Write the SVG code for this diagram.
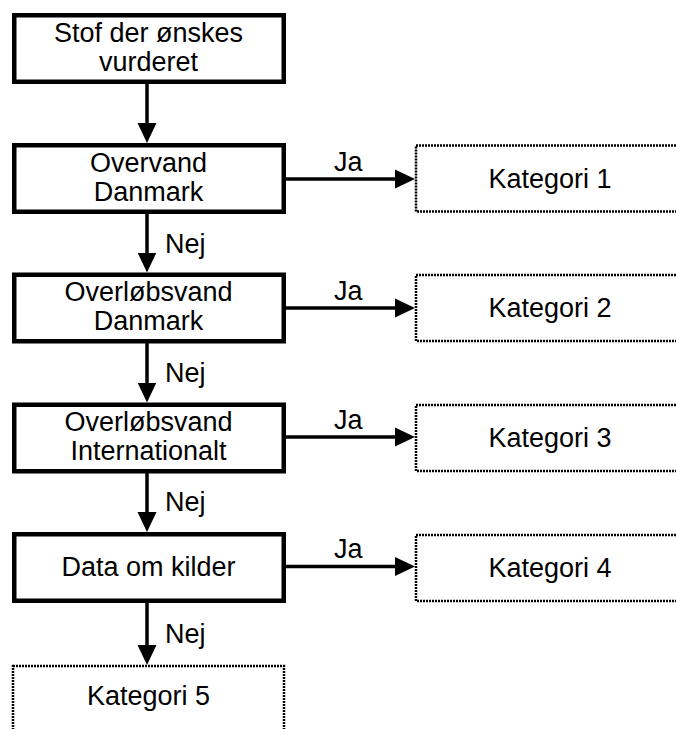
<svg xmlns="http://www.w3.org/2000/svg" width="676" height="729" viewBox="0 0 676 729">
<defs>
<style>
.box{fill:#fff;stroke:#000;stroke-width:4.5}
.cat{fill:#fff;stroke:#000;stroke-width:2.5;stroke-dasharray:2 1}
.t{font-family:"Liberation Sans",Arial,sans-serif;font-size:27px;fill:#000}
.m{text-anchor:middle}
.c{stroke:#000;stroke-width:3.5;fill:none}
</style>
<marker id="ah" markerUnits="userSpaceOnUse" markerWidth="21" markerHeight="20" refX="10" refY="10" orient="auto" viewBox="0 0 21 20">
<path d="M0,0.5 L20,10 L0,19.5 Z" fill="#000"/>
</marker>
</defs>
<rect width="676" height="729" fill="#fff"/>
<g id="connectors">
<line class="c" x1="147" y1="84" x2="147" y2="133" marker-end="url(#ah)"/>
<line class="c" x1="147" y1="213" x2="147" y2="262.5" marker-end="url(#ah)"/>
<line class="c" x1="147" y1="343" x2="147" y2="392.5" marker-end="url(#ah)"/>
<line class="c" x1="147" y1="473" x2="147" y2="522" marker-end="url(#ah)"/>
<line class="c" x1="147" y1="603" x2="147" y2="655" marker-end="url(#ah)"/>
<line class="c" x1="286" y1="179" x2="405" y2="179" marker-end="url(#ah)"/>
<line class="c" x1="286" y1="308" x2="405" y2="308" marker-end="url(#ah)"/>
<line class="c" x1="286" y1="437" x2="405" y2="437" marker-end="url(#ah)"/>
<line class="c" x1="286" y1="566.5" x2="405" y2="566.5" marker-end="url(#ah)"/>
<text class="t" x="334" y="171">Ja</text>
<text class="t" x="334" y="300">Ja</text>
<text class="t" x="334" y="429">Ja</text>
<text class="t" x="334" y="558">Ja</text>
<text class="t" x="165" y="253">Nej</text>
<text class="t" x="165" y="382">Nej</text>
<text class="t" x="165" y="511">Nej</text>
<text class="t" x="165" y="643">Nej</text>
</g>
<g id="n1">
<rect class="box" x="14.25" y="15.25" width="269.5" height="66.5"/>
<text class="t m" x="148.5" y="41.5">Stof der ønskes</text>
<text class="t m" x="148.5" y="71">vurderet</text>
</g>
<g id="n2">
<rect class="box" x="14.25" y="145.25" width="269.5" height="66.5"/>
<text class="t m" x="148.5" y="171.5">Overvand</text>
<text class="t m" x="148.5" y="200.5">Danmark</text>
</g>
<g id="n3">
<rect class="box" x="14.25" y="274.75" width="269.5" height="66.5"/>
<text class="t m" x="148.5" y="301">Overløbsvand</text>
<text class="t m" x="148.5" y="330">Danmark</text>
</g>
<g id="n4">
<rect class="box" x="14.25" y="404.75" width="269.5" height="66.5"/>
<text class="t m" x="148.5" y="431">Overløbsvand</text>
<text class="t m" x="148.5" y="460">Internationalt</text>
</g>
<g id="n5">
<rect class="box" x="14.25" y="534.25" width="269.5" height="66.5"/>
<text class="t m" x="148.5" y="576">Data om kilder</text>
</g>
<g id="k1">
<rect class="cat" x="416" y="145.5" width="300" height="66"/>
<text class="t m" x="550" y="187.5">Kategori 1</text>
</g>
<g id="k2">
<rect class="cat" x="416" y="275" width="300" height="66"/>
<text class="t m" x="550" y="317">Kategori 2</text>
</g>
<g id="k3">
<rect class="cat" x="416" y="405" width="300" height="66"/>
<text class="t m" x="550" y="447">Kategori 3</text>
</g>
<g id="k4">
<rect class="cat" x="416" y="535" width="300" height="66"/>
<text class="t m" x="550" y="576.5">Kategori 4</text>
</g>
<g id="k5">
<rect class="cat" x="13" y="666" width="271" height="100"/>
<text class="t m" x="148.5" y="705">Kategori 5</text>
</g>
</svg>
